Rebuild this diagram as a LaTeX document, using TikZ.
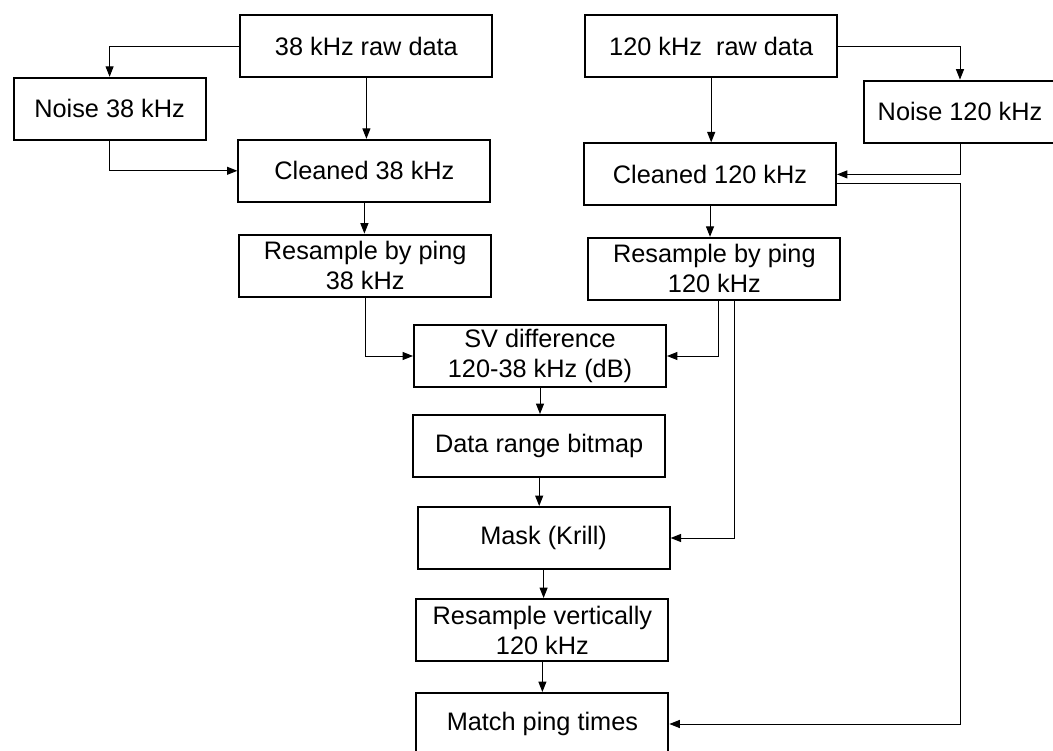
\documentclass[tikz,border=0pt]{standalone}
\usepackage{fontspec}
\setmainfont{Liberation Sans}
\usetikzlibrary{arrows.meta}
\begin{document}
\begin{tikzpicture}
            \useasboundingbox (0,0) rectangle (26.325,-18.775);
            \begin{scope}[every node/.style={rectangle,draw,line width=0.05cm,minimum width=6.3cm,minimum height=1.55cm,align=center,font=\fontsize{18}{21.3}\selectfont}]
                \node (raw38) at (9.16,-1.15) {38 kHz raw data};
                \node (raw120) at (17.78,-1.15) {120 kHz~ raw data};
                \node[minimum width=4.8cm] (noise38) at (2.74,-2.72) {Noise 38 kHz};
                \node[minimum width=4.8cm] (noise120) at (24.0,-2.79) {Noise 120 kHz};
                \node (clean38) at (9.11,-4.27) {Cleaned 38 kHz};
                \node (clean120) at (17.75,-4.36) {Cleaned 120 kHz};
                \node (ping38) at (9.13,-6.64) {Resample by ping\\38 kHz};
                \node (ping120) at (17.86,-6.72) {Resample by ping\\120 kHz};
                \node (svdiff) at (13.5,-8.9) {SV difference\\120-38 kHz (dB)};
                \node (bitmap) at (13.48,-11.15) {Data range bitmap};
                \node (mask) at (13.59,-13.45) {Mask (Krill)};
                \node (vert) at (13.56,-15.75) {Resample vertically\\120 kHz};
                \node (match) at (13.56,-18.1) {Match ping times};
            \end{scope}
            \begin{scope}[every path/.style={draw,line width=0.7pt,-{Triangle[length=0.26cm,width=0.2cm]}}]
                \draw (raw38.west) -| (noise38.north);
                \draw (raw38.south) -- (raw38.south |- clean38.north);
                \draw (noise38.south) |- (clean38.west);
                \draw (clean38.south) -- (clean38.south |- ping38.north);
                \draw (ping38.south) |- (svdiff.west);
                \draw (raw120.east) -| (noise120.north);
                \draw (raw120.south) -- (raw120.south |- clean120.north);
                \draw (noise120.south) |- (clean120.east);
                \draw (clean120.south) -- (clean120.south |- ping120.north);
                \draw ([xshift=0.1cm]ping120.south) |- (svdiff.east);
                \draw ([xshift=0.5cm]ping120.south) |- (mask.east);
                \draw ([yshift=-0.22cm]clean120.east) -| (noise120.south |- match.east) -- (match.east);
                \draw (svdiff.south) -- (svdiff.south |- bitmap.north);
                \draw (bitmap.south) -- (bitmap.south |- mask.north);
                \draw (mask.south) -- (mask.south |- vert.north);
                \draw (vert.south) -- (vert.south |- match.north);
            \end{scope}
        \end{tikzpicture}
\end{document}
